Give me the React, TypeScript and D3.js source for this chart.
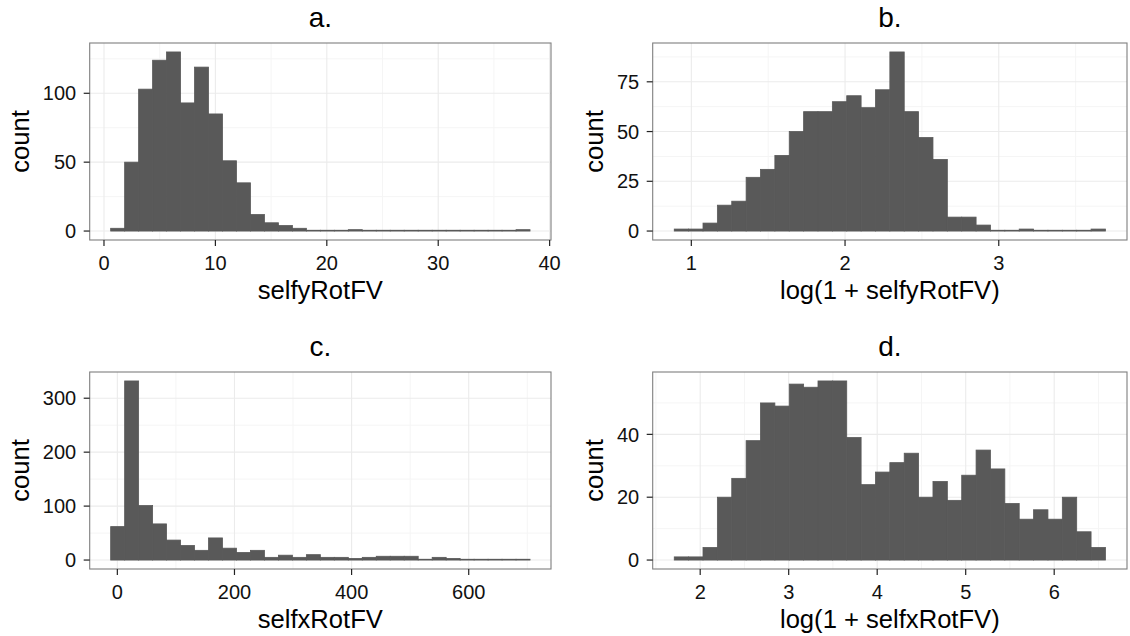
import React from "react";
import * as d3 from "d3";

// Histogram counts (30 bins each) and the bin layout they were computed with.
const selfyRotCounts = [2, 50, 103, 124, 130, 93, 119, 85, 51, 35, 12, 6, 4, 2, 0, 0, 0, 1, 0, 0, 0, 0, 0, 0, 0, 0, 0, 0, 0, 1];
const logSelfyRotCounts = [1, 1, 4, 13, 15, 27, 31, 38, 50, 60, 60, 65, 68, 62, 71, 90, 60, 47, 36, 7, 7, 3, 0, 0, 1, 0, 0, 0, 0, 1];
const selfxRotCounts = [62, 332, 101, 67, 37, 27, 18, 41, 22, 14, 18, 5, 9, 5, 10, 5, 5, 3, 5, 7, 7, 7, 1, 5, 3, 1, 0, 0, 0, 1];
const logSelfxRotCounts = [1, 1, 4, 20, 26, 38, 50, 49, 56, 55, 57, 57, 39, 24, 28, 31, 34, 20, 25, 19, 27, 35, 29, 18, 13, 16, 13, 20, 9, 4];

const binStarts = [0.6, 0.889, -11.4, 1.707];
const binWidths = [1.2547, 0.0935, 23.87, 0.1624];

const panelTitles = ["a.", "b.", "c.", "d."];
const xTitles = ["selfyRotFV", "log(1 + selfyRotFV)", "selfxRotFV", "log(1 + selfxRotFV)"];
const xTickValues = [[0, 10, 20, 30, 40], [1, 2, 3], [0, 200, 400, 600], [2, 3, 4, 5, 6]];
const yTickValues = [[0, 50, 100], [0, 25, 50, 75], [0, 100, 200, 300], [0, 20, 40]];
const countSeries = [selfyRotCounts, logSelfyRotCounts, selfxRotCounts, logSelfxRotCounts];

// Panel frames in pixels (left, right, top, bottom)
const frames = [
  { x0: 89.7, x1: 551, y0: 43, y1: 240 },
  { x0: 652.7, x1: 1127, y0: 43, y1: 240 },
  { x0: 89.7, x1: 551, y0: 372, y1: 569 },
  { x0: 652.7, x1: 1127, y0: 372, y1: 569 },
];

const FONT = "'Liberation Sans', Arial, Helvetica, sans-serif";
const BAR = "#595959";
const GRID_MAJOR = "#ebebeb";
const GRID_MINOR = "#f5f5f5";
const BORDER = "#7f7f7f";
const TICK_FONT = 20;
const TITLE_FONT = 25.6;
const PLOT_TITLE_FONT = 28;

function minorBreaks(major: number[], domain: [number, number]) {
  const step = major[1] - major[0];
  const b = [...major];
  if (domain[0] < b[0]) b.unshift(b[0] - step);
  if (domain[1] > b[b.length - 1]) b.push(b[b.length - 1] + step);
  const out: number[] = [];
  for (let i = 0; i < b.length - 1; i++) out.push((b[i] + b[i + 1]) / 2);
  return out.filter((v) => v >= domain[0] && v <= domain[1]);
}

function Panel({ idx }: { idx: number }) {
  const f = frames[idx];
  const counts = countSeries[idx];
  const start = binStarts[idx];
  const w = binWidths[idx];
  const n = counts.length;
  const span = n * w;
  const xDomain: [number, number] = [start - 0.05 * span, start + span + 0.05 * span];
  const x = d3.scaleLinear().domain(xDomain).range([f.x0, f.x1]);
  const maxC = d3.max(counts) as number;
  const yDomain: [number, number] = [-0.05 * maxC, 1.05 * maxC];
  const y = d3.scaleLinear().domain(yDomain).range([f.y1, f.y0]);

  const xt = xTickValues[idx];
  const yt = yTickValues[idx];
  const xMinor = minorBreaks(xt, xDomain);
  const yMinor = minorBreaks(yt, yDomain);

  const maxLabelLen = d3.max(yt.map((v) => String(v).length)) as number;
  const labelRight = f.x0 - 13.5;
  const yTitleX = labelRight - maxLabelLen * 0.556 * TICK_FONT - 13.5;
  const cx = (f.x0 + f.x1) / 2;
  const cy = (f.y0 + f.y1) / 2;

  return (
    <g>
      <rect x={f.x0} y={f.y0} width={f.x1 - f.x0} height={f.y1 - f.y0} fill="#ffffff" />
      {xMinor.map((v, i) => (
        <line key={"xm" + i} x1={x(v)} x2={x(v)} y1={f.y0} y2={f.y1} stroke={GRID_MINOR} strokeWidth={1} />
      ))}
      {yMinor.map((v, i) => (
        <line key={"ym" + i} x1={f.x0} x2={f.x1} y1={y(v)} y2={y(v)} stroke={GRID_MINOR} strokeWidth={1} />
      ))}
      {xt.map((v, i) => (
        <line key={"xM" + i} x1={x(v)} x2={x(v)} y1={f.y0} y2={f.y1} stroke={GRID_MAJOR} strokeWidth={1.1} />
      ))}
      {yt.map((v, i) => (
        <line key={"yM" + i} x1={f.x0} x2={f.x1} y1={y(v)} y2={y(v)} stroke={GRID_MAJOR} strokeWidth={1.1} />
      ))}
      {counts.map((c, i) => {
        const left = x(start + i * w);
        const right = x(start + (i + 1) * w);
        const top = y(c);
        const h = Math.max(y(0) - top, 0.8);
        return (
          <rect
            key={"b" + i}
            x={left}
            y={y(0) - h}
            width={right - left}
            height={h}
            fill={BAR}
            stroke={BAR}
            strokeWidth={0.8}
          />
        );
      })}
      <rect x={f.x0} y={f.y0} width={f.x1 - f.x0} height={f.y1 - f.y0} fill="none" stroke={BORDER} strokeWidth={1.1} />
      {xt.map((v, i) => (
        <g key={"xt" + i}>
          <line x1={x(v)} x2={x(v)} y1={f.y1} y2={f.y1 + 6} stroke="#222" strokeWidth={1.2} />
          <text x={x(v)} y={f.y1 + 29.5} textAnchor="middle" fontFamily={FONT} fontSize={TICK_FONT} fill="#111">
            {v}
          </text>
        </g>
      ))}
      {yt.map((v, i) => (
        <g key={"yt" + i}>
          <line x1={f.x0 - 6} x2={f.x0} y1={y(v)} y2={y(v)} stroke="#222" strokeWidth={1.2} />
          <text x={labelRight} y={y(v)} dy="0.36em" textAnchor="end" fontFamily={FONT} fontSize={TICK_FONT} fill="#111">
            {v}
          </text>
        </g>
      ))}
      <text x={cx} y={f.y1 + 58.5} textAnchor="middle" fontFamily={FONT} fontSize={TITLE_FONT} fill="#000">
        {xTitles[idx]}
      </text>
      <text
        transform={`translate(${yTitleX},${cy}) rotate(-90)`}
        textAnchor="middle"
        fontFamily={FONT}
        fontSize={TITLE_FONT}
        fill="#000"
      >
        count
      </text>
      <text x={cx} y={f.y0 - 16.5} textAnchor="middle" fontFamily={FONT} fontSize={PLOT_TITLE_FONT} fill="#000">
        {panelTitles[idx]}
      </text>
    </g>
  );
}

export default function App() {
  return (
    <svg
      width={1130}
      height={636}
      viewBox="0 0 1130 636"
      style={{ position: "absolute", left: 0, top: 0, background: "#ffffff" }}
    >
      <rect x={0} y={0} width={1130} height={636} fill="#ffffff" />
      {[0, 1, 2, 3].map((i) => (
        <Panel key={i} idx={i} />
      ))}
    </svg>
  );
}
